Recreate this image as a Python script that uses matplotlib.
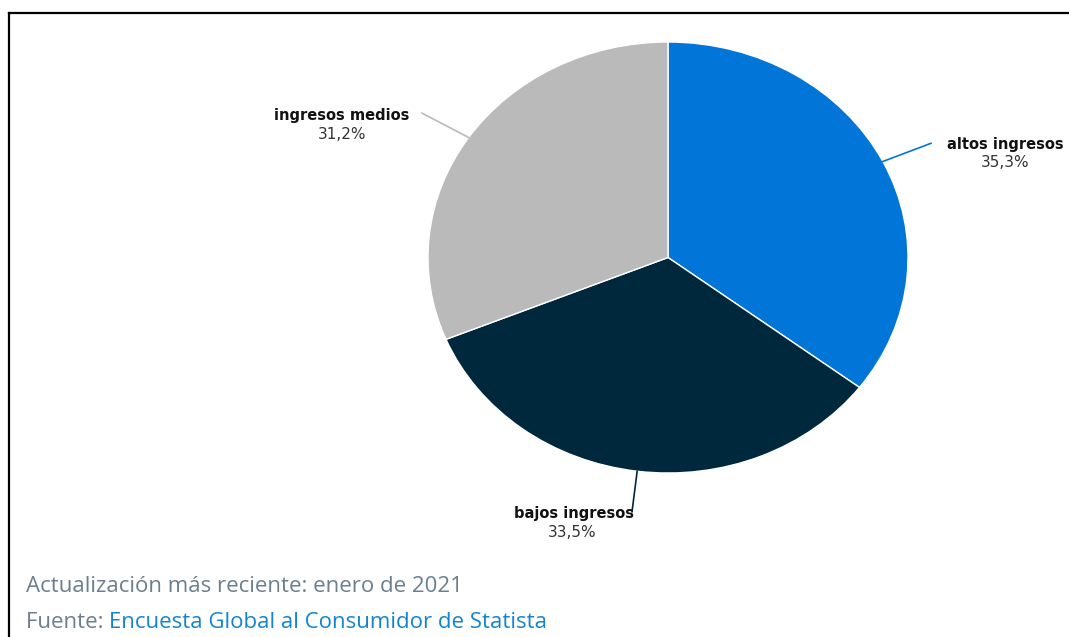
import numpy as np
import matplotlib
matplotlib.use('Agg')
import matplotlib.pyplot as plt
from matplotlib.lines import Line2D

# Data
labels = ['altos ingresos', 'bajos ingresos', 'ingresos medios']
shares = [35.3, 33.5, 31.2]
pct_labels = ['35,3%', '33,5%', '31,2%']
colors = ['#0275d8', '#00283c', '#bababa']

fig = plt.figure(figsize=(10.69, 6.37), dpi=100)
W, H = 1069, 637

# pie area (the source picture is stretched horizontally)
ax = fig.add_axes([428 / W, 1 - 473 / H, 480 / W, 431 / H])
wedges, _ = ax.pie(shares, colors=colors, startangle=90, counterclock=False,
                   radius=1, wedgeprops=dict(edgecolor='white', linewidth=1))
ax.set_aspect('auto')
ax.set_xlim(-1, 1)
ax.set_ylim(-1, 1)
ax.axis('off')

# label placement (data coords of the pie axes)
line_ends = [(1.096, 0.53), (-0.15, -1.18), (-1.025, 0.67)]
name_pos = [(1.404, 0.525), (-0.39, -1.19), (-1.358, 0.66)]
pct_pos = [(1.404, 0.44), (-0.40, -1.275), (-1.358, 0.572)]
line_colors = ['#0275d8', '#00283c', '#bababa']

for w, lab, pct, end, npos, ppos, lc in zip(wedges, labels, pct_labels, line_ends,
                                            name_pos, pct_pos, line_colors):
    ang = np.deg2rad((w.theta1 + w.theta2) / 2)
    x0, y0 = np.cos(ang), np.sin(ang)
    ax.plot([x0, end[0]], [y0, end[1]], color=lc, lw=1.2, clip_on=False)
    ax.text(npos[0], npos[1], lab, ha='center', va='center', fontsize=10.5,
            fontweight='bold', color='#111111', clip_on=False)
    ax.text(ppos[0], ppos[1], pct, ha='center', va='center', fontsize=11,
            color='#333333', clip_on=False)

# frame lines (left and top)
fig.add_artist(Line2D([8.5 / W, 8.5 / W], [0, 1 - 13 / H], color='black', lw=1.6))
fig.add_artist(Line2D([8.5 / W, 1], [1 - 13 / H, 1 - 13 / H], color='black', lw=1.6))

# footer
gray = '#6c7f8f'
blue = '#1584d0'
fig.text(26 / W, 1 - 587 / H, 'Actualización más reciente: enero de 2021',
         fontsize=16, color=gray, family='Open Sans', va='center')
t = fig.text(26 / W, 1 - 622 / H, 'Fuente: ', fontsize=16, color=gray,
             family='Open Sans', va='center')
ax.annotate('Encuesta Global al Consumidor de Statista', xy=(1, 0.5),
            xycoords=t, va='center', ha='left', fontsize=16, color=blue,
            family='Open Sans', annotation_clip=False)

fig.savefig('out.png', dpi=100)
